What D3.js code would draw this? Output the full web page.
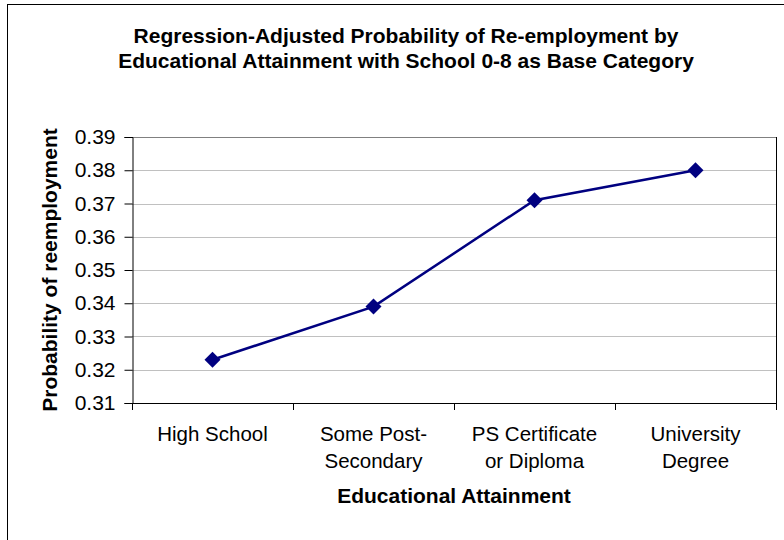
<!DOCTYPE html>
<html>
<head>
<meta charset="utf-8">
<script src="https://cdn.jsdelivr.net/npm/d3@7"></script>
<style>
  html, body { margin: 0; padding: 0; background: #fff; }
  svg { display: block; font-family: Arial, "Liberation Sans", sans-serif; }
</style>
</head>
<body>
<svg id="chart" width="784" height="540"></svg>
<script>
// Education categories (two-line labels) and adjusted probabilities
const categories = ["High School", "Some Post-Secondary", "PS Certificate or Diploma", "University Degree"];
const categoryLines = [["High School"], ["Some Post-", "Secondary"], ["PS Certificate", "or Diploma"], ["University", "Degree"]];
const probabilities = [0.323, 0.339, 0.371, 0.380];
const yTicks = [0.31, 0.32, 0.33, 0.34, 0.35, 0.36, 0.37, 0.38, 0.39];
const titleLines = ["Regression-Adjusted Probability of Re-employment by", "Educational Attainment with School 0-8 as Base Category"];

const svg = d3.select("#chart");
const plot = { left: 132, top: 137, right: 776, bottom: 403 };
const fs = 21;

// Outer chart frame (extends past the canvas on right and bottom)
svg.append("rect")
  .attr("x", 7.5).attr("y", 4.5)
  .attr("width", 800).attr("height", 600)
  .attr("fill", "#fff").attr("stroke", "#000").attr("stroke-width", 1);

const x = d3.scaleBand().domain(categories).range([plot.left, plot.right]).padding(0);
const y = d3.scaleLinear().domain([0.31, 0.39]).range([plot.bottom, plot.top]);

// Horizontal gridlines
svg.append("g").selectAll("line")
  .data(yTicks.slice(1, -1))
  .join("line")
  .attr("x1", plot.left).attr("x2", plot.right)
  .attr("y1", d => Math.round(y(d)) + 0.5).attr("y2", d => Math.round(y(d)) + 0.5)
  .attr("stroke", "#c0c0c0").attr("stroke-width", 1);

// Plot area border: top gray, right dark
svg.append("line")
  .attr("x1", plot.left).attr("x2", plot.right)
  .attr("y1", plot.top + 0.5).attr("y2", plot.top + 0.5)
  .attr("stroke", "#808080").attr("stroke-width", 1);
svg.append("line")
  .attr("x1", plot.right + 0.5).attr("x2", plot.right + 0.5)
  .attr("y1", plot.top).attr("y2", plot.bottom)
  .attr("stroke", "#000").attr("stroke-width", 1);

// Y axis
const yAxis = d3.axisLeft(y).tickValues(yTicks).tickFormat(d3.format(".2f")).tickSize(8).tickPadding(9);
const gy = svg.append("g").attr("transform", `translate(${plot.left + 0.5},0)`).call(yAxis);
gy.select(".domain").attr("stroke", "#000");
gy.selectAll(".tick line").attr("stroke", "#000");
gy.selectAll(".tick text").attr("font-size", fs).attr("fill", "#000")
  .attr("font-family", "Arial, 'Liberation Sans', sans-serif");

// X axis: ticks at category boundaries
const boundaries = categories.map(c => x(c)).concat([x.range()[1]]);
const gx = svg.append("g");
gx.append("line")
  .attr("x1", plot.left).attr("x2", plot.right + 1)
  .attr("y1", plot.bottom + 0.5).attr("y2", plot.bottom + 0.5)
  .attr("stroke", "#000");
gx.selectAll("line.tk").data(boundaries).join("line").attr("class", "tk")
  .attr("x1", d => Math.round(d) + 0.5).attr("x2", d => Math.round(d) + 0.5)
  .attr("y1", plot.bottom).attr("y2", plot.bottom + 7)
  .attr("stroke", "#000");

// Category labels
const lbl = gx.selectAll("text.cat").data(categories).join("text").attr("class", "cat")
  .attr("text-anchor", "middle").attr("font-size", 20.5).attr("fill", "#000");
lbl.each(function(d, i) {
  const t = d3.select(this);
  categoryLines[i].forEach((line, k) => {
    t.append("tspan")
      .attr("x", x(d) + x.bandwidth() / 2)
      .attr("y", 441 + k * 26.5)
      .text(line);
  });
});

// Series line and diamond markers
const line = d3.line()
  .x((d, i) => x(categories[i]) + x.bandwidth() / 2)
  .y(d => y(d));
svg.append("path").datum(probabilities)
  .attr("d", line).attr("fill", "none")
  .attr("stroke", "#000080").attr("stroke-width", 2.5);

svg.append("g").selectAll("path").data(probabilities).join("path")
  .attr("transform", (d, i) => `translate(${x(categories[i]) + x.bandwidth() / 2},${y(d)})`)
  .attr("d", "M0,-8L8,0L0,8L-8,0Z")
  .attr("fill", "#000080");

// Title
const title = svg.append("text").attr("text-anchor", "middle")
  .attr("font-size", fs).attr("font-weight", "bold").attr("fill", "#000");
titleLines.forEach((t, k) => {
  title.append("tspan").attr("x", 406).attr("y", 43 + k * 25).text(t);
});

// Axis titles
svg.append("text").attr("text-anchor", "middle")
  .attr("x", (plot.left + plot.right) / 2).attr("y", 503)
  .attr("font-size", fs).attr("font-weight", "bold").attr("fill", "#000")
  .text("Educational Attainment");

svg.append("text").attr("text-anchor", "middle")
  .attr("transform", `translate(57,${(plot.top + plot.bottom) / 2}) rotate(-90)`)
  .attr("font-size", fs).attr("font-weight", "bold").attr("fill", "#000")
  .text("Probability of reemployment");
</script>
</body>
</html>
